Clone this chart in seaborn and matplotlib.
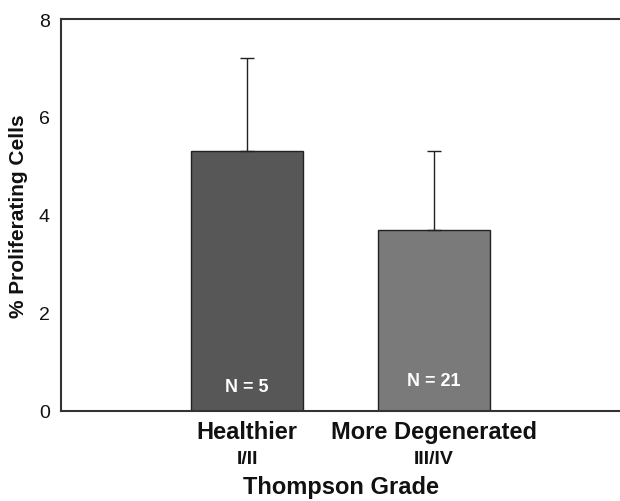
"""Bar chart: proliferating cells by Thompson grade."""

import matplotlib
matplotlib.use("Agg")
import matplotlib.pyplot as plt
import matplotlib.transforms as mtransforms
import pandas as pd
import seaborn as sns

# Data
groups = ["Healthier", "More Degenerated"]
grades = ["I/II", "III/IV"]
means = [5.3, 3.7]
sd_upper = [1.9, 1.6]
n_labels = ["N = 5", "N = 21"]
n_label_y = [0.5, 0.62]
bar_colors = ["#575757", "#7a7a7a"]
yticks = [0, 2, 4, 6, 8]

sns.set_style("white")
plt.rcParams["font.family"] = ["Liberation Sans", "DejaVu Sans"]
plt.rcParams["text.color"] = "#111111"
plt.rcParams["axes.labelcolor"] = "#111111"
plt.rcParams["xtick.color"] = "#111111"
plt.rcParams["ytick.color"] = "#111111"
narrow = ["Liberation Sans Narrow", "Liberation Sans", "DejaVu Sans"]

df = pd.DataFrame({"group": groups, "mean": means})

fig = plt.figure(figsize=(6.2, 5.02), dpi=100)
ax = fig.add_axes([0.098, 0.18, 0.902, 0.78])

sns.barplot(data=df, x="group", y="mean", hue="group", palette=bar_colors,
            width=0.6, edgecolor="#222222", linewidth=1.0, legend=False, ax=ax)

# upper-only error bars
ax.errorbar(range(len(groups)), means, yerr=[[0] * len(groups), sd_upper],
            fmt="none", ecolor="#222222", elinewidth=1.0, capsize=5, capthick=1.0)

for i, (lbl, yy) in enumerate(zip(n_labels, n_label_y)):
    ax.text(i, yy, lbl, ha="center", va="center", color="white",
            fontsize=13, fontweight="bold", family=narrow)

ax.set_xlim(-1.0, 2.0)
ax.set_ylim(0, 8)
ax.set_yticks(yticks)
ax.set_yticklabels([str(t) for t in yticks], fontsize=14)
ax.set_xticks(range(len(groups)))
ax.set_xticklabels(groups, fontsize=17, fontweight="bold")
ax.tick_params(axis="x", length=0, pad=7)
ax.tick_params(axis="y", direction="out", length=4, width=1.2, color="#333333", pad=4)

trans = mtransforms.blended_transform_factory(ax.transData, fig.transFigure)
for i, g in enumerate(grades):
    ax.text(i, 1 - 460 / 502, g, transform=trans, ha="center", va="center",
            fontsize=14, fontweight="bold", family=narrow)

ax.set_xlabel("Thompson Grade", fontsize=17, fontweight="bold")
ax.xaxis.set_label_coords(0.502, -0.165)
ax.set_ylabel("% Proliferating Cells", fontsize=15, fontweight="bold", labelpad=8)

for side in ["left", "bottom", "top"]:
    ax.spines[side].set_visible(True)
    ax.spines[side].set_color("#333333")
    ax.spines[side].set_linewidth(1.5)
ax.spines["right"].set_visible(False)

fig.savefig("out.png", dpi=100)
plt.close(fig)
